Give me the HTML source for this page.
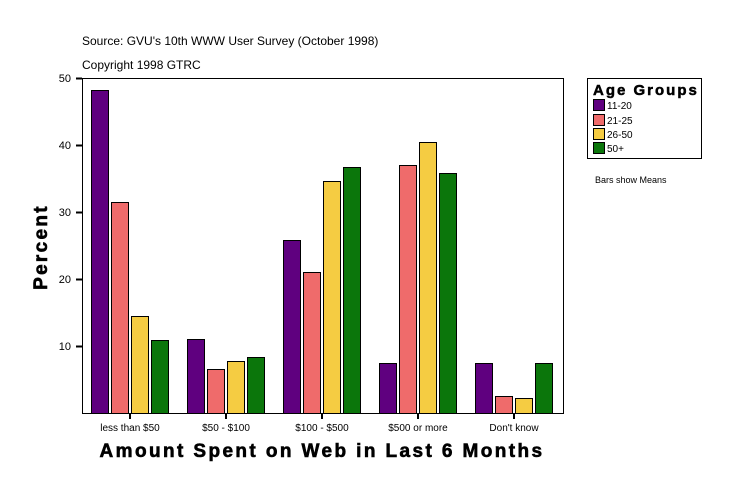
<!DOCTYPE html><html><head><style>body{margin:0;background:#fff}</style></head><body>
<svg width="739" height="496" xmlns="http://www.w3.org/2000/svg" font-family="Liberation Sans, sans-serif">
<rect width="739" height="496" fill="#fff"/>
<text x="82" y="45" font-size="12">Source: GVU's 10th WWW User Survey (October 1998)</text>
<text x="82" y="69" font-size="12">Copyright 1998 GTRC</text>
<rect x="82.5" y="78.5" width="481" height="335" fill="none" stroke="#000"/>
<g stroke="#000" stroke-width="2">
<line x1="76" y1="78.5" x2="82" y2="78.5"/><line x1="76" y1="145.5" x2="82" y2="145.5"/><line x1="76" y1="212.5" x2="82" y2="212.5"/><line x1="76" y1="279.5" x2="82" y2="279.5"/><line x1="76" y1="346.5" x2="82" y2="346.5"/>
<line x1="130" y1="413" x2="130" y2="419"/><line x1="226" y1="413" x2="226" y2="419"/><line x1="322" y1="413" x2="322" y2="419"/><line x1="418" y1="413" x2="418" y2="419"/><line x1="514" y1="413" x2="514" y2="419"/>
</g>
<g font-size="11" text-anchor="end"><text x="71" y="82">50</text><text x="71" y="149">40</text><text x="71" y="216">30</text><text x="71" y="283">20</text><text x="71" y="350">10</text></g>
<g font-size="10" text-anchor="middle"><text x="130" y="431">less than $50</text><text x="226" y="431">$50 - $100</text><text x="322" y="431">$100 - $500</text><text x="418" y="431">$500 or more</text><text x="514" y="431">Don't know</text></g>
<text x="322" y="457" font-size="19" font-weight="bold" text-anchor="middle" letter-spacing="2.4" stroke="#000" stroke-width="0.6">Amount Spent on Web in Last 6 Months</text>
<text transform="translate(47,247) rotate(-90)" font-size="19" font-weight="bold" text-anchor="middle" letter-spacing="2.3" stroke="#000" stroke-width="0.6">Percent</text>
<g stroke="#000" stroke-width="1">
<rect x="91.5" y="90.5" width="17" height="323" fill="#5f007f"/><rect x="111.5" y="202.5" width="17" height="211" fill="#ef6b6b"/><rect x="131.5" y="316.5" width="17" height="97" fill="#f5cc42"/><rect x="151.5" y="340.5" width="17" height="73" fill="#0b760b"/>
<rect x="187.5" y="339.5" width="17" height="74" fill="#5f007f"/><rect x="207.5" y="369.5" width="17" height="44" fill="#ef6b6b"/><rect x="227.5" y="361.5" width="17" height="52" fill="#f5cc42"/><rect x="247.5" y="357.5" width="17" height="56" fill="#0b760b"/>
<rect x="283.5" y="240.5" width="17" height="173" fill="#5f007f"/><rect x="303.5" y="272.5" width="17" height="141" fill="#ef6b6b"/><rect x="323.5" y="181.5" width="17" height="232" fill="#f5cc42"/><rect x="343.5" y="167.5" width="17" height="246" fill="#0b760b"/>
<rect x="379.5" y="363.5" width="17" height="50" fill="#5f007f"/><rect x="399.5" y="165.5" width="17" height="248" fill="#ef6b6b"/><rect x="419.5" y="142.5" width="17" height="271" fill="#f5cc42"/><rect x="439.5" y="173.5" width="17" height="240" fill="#0b760b"/>
<rect x="475.5" y="363.5" width="17" height="50" fill="#5f007f"/><rect x="495.5" y="396.5" width="17" height="17" fill="#ef6b6b"/><rect x="515.5" y="398.5" width="17" height="15" fill="#f5cc42"/><rect x="535.5" y="363.5" width="17" height="50" fill="#0b760b"/>
</g>
<rect x="587.5" y="78.5" width="114" height="80" fill="none" stroke="#000"/>
<text x="593" y="95" font-size="15" font-weight="bold" letter-spacing="2" stroke="#000" stroke-width="0.5">Age Groups</text>
<g stroke="#000"><rect x="593.5" y="99.5" width="11" height="11" fill="#5f007f"/><rect x="593.5" y="114.5" width="11" height="11" fill="#ef6b6b"/><rect x="593.5" y="128.5" width="11" height="11" fill="#f5cc42"/><rect x="593.5" y="142.5" width="11" height="11" fill="#0b760b"/></g>
<g font-size="10"><text x="607" y="109">11-20</text><text x="607" y="124">21-25</text><text x="607" y="138">26-50</text><text x="607" y="152">50+</text></g>
<text x="595" y="183" font-size="9">Bars show Means</text>
</svg></body></html>
